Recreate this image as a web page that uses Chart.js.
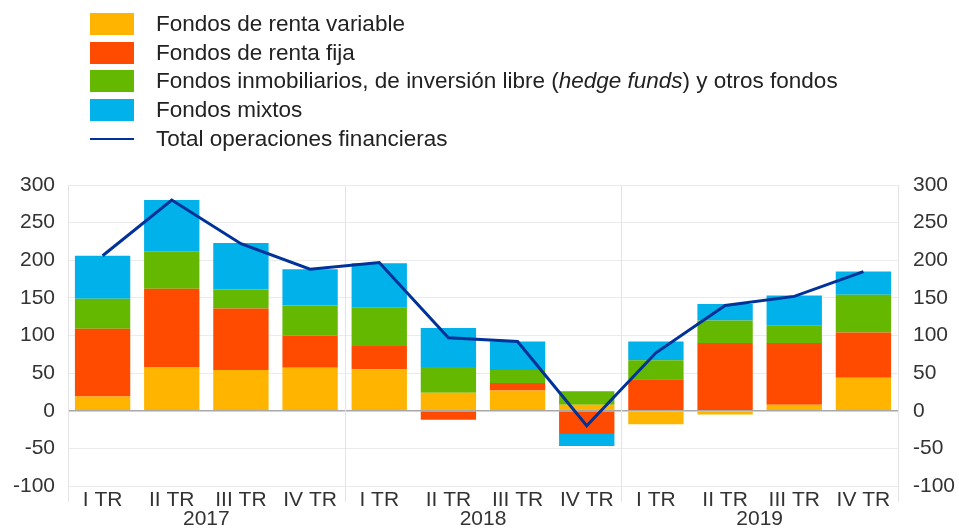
<!DOCTYPE html>
<html>
<head>
<meta charset="utf-8">
<script src="https://cdn.jsdelivr.net/npm/chart.js@4"></script>
<style>
  body { margin: 0; background: #fff; font-family: "Liberation Sans", Arial, sans-serif; }
  #wrap { position: relative; width: 959px; height: 528px; }
  #legend { position: absolute; left: 90px; top: 10px; color: #222; font-size: 22.5px; }
  .row { display: flex; align-items: center; height: 28.6px; }
  .sw { width: 44px; height: 22px; margin-right: 22px; }
  .ln { width: 44px; height: 2px; margin-right: 22px; background: #003299; }
</style>
</head>
<body>
<div id="wrap">
  <canvas id="chart" width="959" height="528"></canvas>
  <div id="legend"></div>
</div>
<script>
// Data
const categories = ['I TR', 'II TR', 'III TR', 'IV TR', 'I TR', 'II TR', 'III TR', 'IV TR', 'I TR', 'II TR', 'III TR', 'IV TR'];
const years = ['2017', '2018', '2019'];
const rentaVariable = [19, 58, 54, 57, 55, 24, 27, 8, -18, -5, 8, 44];
const rentaFija = [90, 104, 82, 43, 31, -12, 10, -31, 42, 90, 82, 60];
const inmobiliarios = [40, 50, 25, 40, 51, 34, 17, 18, 25, 30, 23, 50];
const mixtos = [57, 68, 62, 48, 59, 52, 38, -16, 25, 22, 40, 31];
const totalOps = [206, 280, 222, 188, 197, 97, 92, -20, 77, 140, 152, 185];

const colors = {
  variable: '#FFB400',
  fija: '#FF4B00',
  inmob: '#65B800',
  mixtos: '#00B1EA',
  total: '#003299'
};

// Legend
const legendItems = [
  { color: colors.variable, text: 'Fondos de renta variable' },
  { color: colors.fija, text: 'Fondos de renta fija' },
  { color: colors.inmob, text: 'Fondos inmobiliarios, de inversión libre (<i>hedge funds</i>) y otros fondos' },
  { color: colors.mixtos, text: 'Fondos mixtos' },
  { line: true, text: 'Total operaciones financieras' }
];
document.getElementById('legend').innerHTML = legendItems.map(item => `
  <div class="row">
    ${item.line ? '<span class="ln"></span>' : `<span class="sw" style="background:${item.color}"></span>`}
    <span>${item.text}</span>
  </div>`).join('');

// Year separators (behind bars) and year labels
function yearEdges(x) {
  const step = x.getPixelForValue(1) - x.getPixelForValue(0);
  return [0, 4, 8, 12].map(i => x.getPixelForValue(i) - step / 2);
}

const yearPlugin = {
  id: 'years',
  beforeDatasetsDraw(chart) {
    const { ctx, chartArea, scales: { x } } = chart;
    ctx.save();
    ctx.strokeStyle = '#e4e4e4';
    ctx.lineWidth = 1;
    yearEdges(x).forEach(px => {
      ctx.beginPath();
      ctx.moveTo(Math.round(px) + 0.5, chartArea.top);
      ctx.lineTo(Math.round(px) + 0.5, chartArea.bottom + 16);
      ctx.stroke();
    });
    ctx.restore();
  },
  afterDraw(chart) {
    const { ctx, scales: { x } } = chart;
    const edges = yearEdges(x);
    ctx.save();
    ctx.fillStyle = '#333';
    ctx.font = '21px "Liberation Sans", Arial, sans-serif';
    ctx.textAlign = 'center';
    ctx.textBaseline = 'middle';
    years.forEach((yr, i) => {
      ctx.fillText(yr, (edges[i] + edges[i + 1]) / 2, 519);
    });
    ctx.restore();
  }
};

const tickFont = { family: '"Liberation Sans", Arial, sans-serif', size: 21 };

new Chart(document.getElementById('chart').getContext('2d'), {
  type: 'bar',
  data: {
    labels: categories,
    datasets: [
      { type: 'line', label: 'Total operaciones financieras', data: totalOps, borderColor: colors.total, borderWidth: 3, pointRadius: 0, tension: 0, stack: 'total', order: 0 },
      { label: 'Fondos de renta variable', data: rentaVariable, backgroundColor: colors.variable, stack: 'bars', order: 1 },
      { label: 'Fondos de renta fija', data: rentaFija, backgroundColor: colors.fija, stack: 'bars', order: 1 },
      { label: 'Fondos inmobiliarios', data: inmobiliarios, backgroundColor: colors.inmob, stack: 'bars', order: 1 },
      { label: 'Fondos mixtos', data: mixtos, backgroundColor: colors.mixtos, stack: 'bars', order: 1 }
    ]
  },
  options: {
    responsive: false,
    animation: false,
    layout: { padding: { top: 185, left: 0, right: 0, bottom: 0 } },
    datasets: { bar: { barPercentage: 0.8, categoryPercentage: 1 } },
    plugins: { legend: { display: false }, tooltip: { enabled: false } },
    scales: {
      x: {
        stacked: true,
        grid: { display: false, drawTicks: false, tickLength: 0 },
        border: { display: false },
        ticks: { color: '#333', font: tickFont, padding: 2, maxRotation: 0, autoSkip: false },
        afterFit: s => { s.height = 42; }
      },
      y: {
        stacked: true,
        min: -100, max: 300,
        position: 'left',
        border: { display: false },
        grid: {
          color: c => c.tick.value === 0 ? '#a8a8a8' : '#ebebeb',
          lineWidth: c => c.tick.value === 0 ? 1.5 : 1,
          drawTicks: false
        },
        ticks: { stepSize: 50, color: '#333', font: tickFont, padding: 13 },
        afterFit: s => { s.width = 68; }
      },
      y2: {
        min: -100, max: 300,
        position: 'right',
        border: { display: false },
        grid: { display: false, drawTicks: false },
        ticks: { stepSize: 50, color: '#333', font: tickFont, padding: 15 },
        afterFit: s => { s.width = 61; }
      }
    }
  },
  plugins: [yearPlugin]
});
</script>
</body>
</html>
